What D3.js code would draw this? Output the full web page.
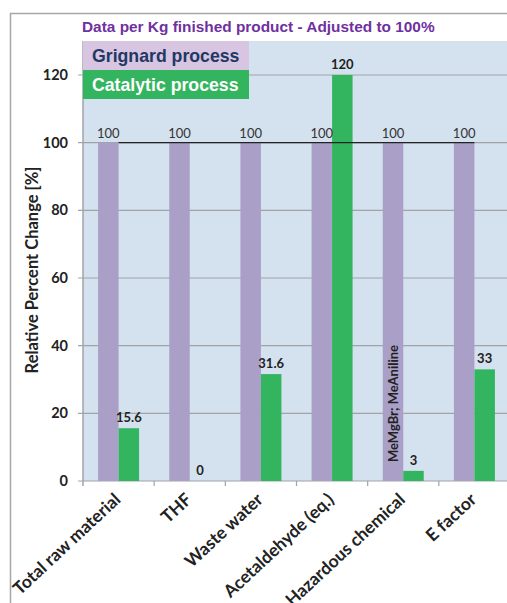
<!DOCTYPE html>
<html>
<head>
<meta charset="utf-8">
<script src="https://cdn.jsdelivr.net/npm/d3@7"></script>
<style>
  body { margin: 0; background: #fff; }
  svg text { font-family: Lato, "Open Sans", sans-serif; }
</style>
</head>
<body>
<div id="chart"></div>
<script>
var categories = ['Total raw material', 'THF', 'Waste water', 'Acetaldehyde (eq.)', 'Hazardous chemical', 'E factor'];
var grignard = [100, 100, 100, 100, 100, 100];
var catalytic = [15.6, 0, 31.6, 120, 3, 33];
var yTicks = [0, 20, 40, 60, 80, 100, 120];

var width = 507, height = 603;
var plot = { left: 83, top: 41, right: 510, bottom: 481 };

var svg = d3.select('#chart').append('svg')
  .attr('width', width)
  .attr('height', height);

// outer frame
svg.append('path')
  .attr('d', 'M10.5,' + height + 'V13.5H' + width)
  .attr('fill', 'none')
  .attr('stroke', '#a6a6a6')
  .attr('stroke-width', 1.5);

var x = d3.scaleBand().domain(categories).range([plot.left, plot.right]);
var y = d3.scaleLinear().domain([0, 120]).range([plot.bottom, 75]);
var barW = 20.5;

svg.append('rect')
  .attr('x', plot.left).attr('y', plot.top)
  .attr('width', plot.right - plot.left).attr('height', plot.bottom - plot.top)
  .attr('fill', '#d4e1ee');

// gridlines
svg.selectAll('.grid').data(yTicks).enter().append('line')
  .attr('x1', plot.left - 5).attr('x2', plot.right)
  .attr('y1', function(d) { return y(d) }).attr('y2', function(d) { return y(d) })
  .attr('stroke', '#a0a3a8').attr('stroke-width', 1.2);

svg.selectAll('.ylab').data(yTicks).enter().append('text')
  .attr('x', 68).attr('y', function(d) { return y(d) + 5 })
  .attr('text-anchor', 'end')
  .style('font-size', '14.5px').style('font-weight', 'bold').style('fill', '#222')
  .text(function(d) { return d });

// y axis line + x ticks
svg.append('line')
  .attr('x1', plot.left).attr('x2', plot.left)
  .attr('y1', plot.top).attr('y2', plot.bottom + 5)
  .attr('stroke', '#a0a3a8').attr('stroke-width', 1.5);
svg.selectAll('.xtick').data(categories.slice(1)).enter().append('line')
  .attr('x1', function(d) { return x(d) }).attr('x2', function(d) { return x(d) })
  .attr('y1', plot.bottom).attr('y2', plot.bottom + 5)
  .attr('stroke', '#a0a3a8').attr('stroke-width', 1.2);

var cx = function(i) { return x(categories[i]) + x.bandwidth() / 2 };

// bars
svg.selectAll('.g').data(grignard).enter().append('rect')
  .attr('x', function(d, i) { return cx(i) - barW })
  .attr('y', function(d) { return y(d) })
  .attr('width', barW)
  .attr('height', function(d) { return y(0) - y(d) })
  .attr('fill', '#aa9fc7');

svg.selectAll('.c').data(catalytic).enter().append('rect')
  .attr('x', function(d, i) { return cx(i) })
  .attr('y', function(d) { return y(d) })
  .attr('width', barW)
  .attr('height', function(d) { return y(0) - y(d) })
  .attr('fill', '#33b560');

// the 100 reference line
svg.append('path')
  .datum(grignard)
  .attr('d', d3.line().x(function(d, i) { return cx(i) }).y(function(d) { return y(d) }))
  .attr('stroke', '#222').attr('stroke-width', 1.3).attr('fill', 'none');

// value labels
svg.selectAll('.gl').data(grignard).enter().append('text')
  .attr('x', function(d, i) { return cx(i) - barW / 2 })
  .attr('y', function(d) { return y(d) - 5 })
  .attr('text-anchor', 'middle')
  .style('font-size', '13px').style('fill', '#333')
  .text(function(d) { return d });

svg.selectAll('.cl').data(catalytic).enter().append('text')
  .attr('x', function(d, i) { return cx(i) + barW / 2 })
  .attr('y', function(d) { return y(d) - 6 })
  .attr('text-anchor', 'middle')
  .style('font-size', '13px').style('font-weight', 'bold').style('fill', '#222')
  .text(function(d) { return d });

// annotation inside hazardous chemical bar
svg.append('text')
  .attr('transform', 'translate(' + (cx(4) - barW / 2 + 5) + ',462) rotate(-90)')
  .style('font-size', '13px').style('font-weight', 'bold').style('fill', '#222')
  .text('MeMgBr; MeAniline');

// x labels
svg.selectAll('.xl').data(categories).enter().append('text')
  .attr('transform', function(d, i) { return 'translate(' + (cx(i) + 3) + ',501) rotate(-43)' })
  .attr('text-anchor', 'end')
  .style('font-size', '17.5px').style('font-weight', 'bold').style('fill', '#222')
  .text(function(d) { return d });

// y title
svg.append('text')
  .attr('transform', 'translate(38,270) rotate(-90)')
  .attr('text-anchor', 'middle')
  .style('font-size', '16.5px').style('font-weight', 'bold').style('fill', '#222')
  .text('Relative Percent Change [%]');

// title
svg.append('text')
  .attr('x', 82).attr('y', 32)
  .style('font-family', '"Liberation Sans", Arial, sans-serif')
  .style('font-size', '15.4px').style('font-weight', 'bold').style('fill', '#7030a0')
  .text('Data per Kg finished product - Adjusted to 100%');

// legend boxes
var legend = [
  { name: 'Grignard process', bg: '#d7c5e1', fg: '#1f3864' },
  { name: 'Catalytic process', bg: '#33b560', fg: '#ffffff' }
];
var lg = svg.selectAll('.lg').data(legend).enter().append('g')
  .attr('transform', function(d, i) { return 'translate(83,' + (41 + i * 29) + ')' });
lg.append('rect').attr('width', 166).attr('height', 29).attr('fill', function(d) { return d.bg });
lg.append('text')
  .attr('x', 9).attr('y', 21)
  .style('font-family', '"Liberation Sans", Arial, sans-serif')
  .style('font-size', '17.7px').style('font-weight', 'bold')
  .style('fill', function(d) { return d.fg })
  .text(function(d) { return d.name });
</script>
</body>
</html>
